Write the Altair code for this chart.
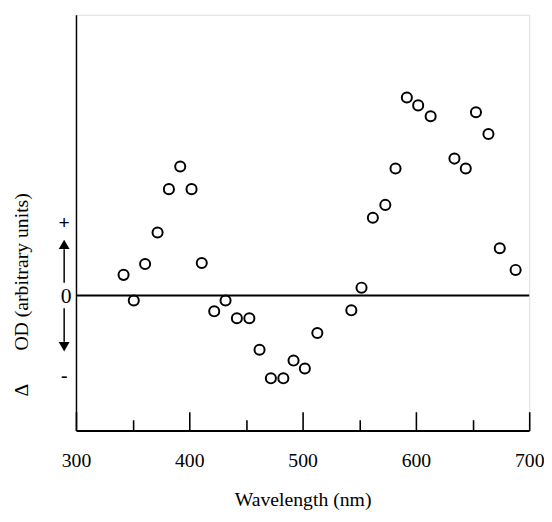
import altair as alt
import pandas as pd

# Data
wavelength = [342, 351, 361, 372, 382, 392, 402, 411, 422, 432, 442, 453,
              462, 472, 483, 492, 502, 513, 543, 552, 562, 573, 582, 592,
              602, 613, 634, 644, 653, 664, 674, 688]
delta_od = [2.1, -0.5, 3.2, 6.4, 10.8, 13.1, 10.8, 3.3, -1.6, -0.5, -2.3, -2.3,
            -5.5, -8.4, -8.4, -6.6, -7.4, -3.8, -1.5, 0.8, 7.9, 9.2, 12.9, 20.1,
            19.3, 18.2, 13.9, 12.9, 18.6, 16.4, 4.8, 2.6]
x_tick_labels = [300, 400, 500, 600, 700]
major_ticks = [400, 500, 600, 700]
minor_ticks = [350, 450, 550, 650]

W, H = 460, 422
Y_MIN, Y_MAX = -13.7, 28.5
FONT = "Liberation Serif"
MAJOR_LEN, MINOR_LEN = 19, 11

df = pd.DataFrame({"wl": wavelength, "od": delta_od})
xs = alt.Scale(domain=[300, 700], nice=False, zero=False)
ys = alt.Scale(domain=[Y_MIN, Y_MAX], nice=False, zero=False)

# inward ticks are drawn as short dashes of the x grid lines, at the bottom edge
grid_dash = {
    "condition": {"test": "datum.value % 100 === 0",
                  "value": [0, H - MAJOR_LEN, MAJOR_LEN, 2000]},
    "value": [0, H - MINOR_LEN, MINOR_LEN, 2000],
}

points = alt.Chart(df).mark_point(shape="circle", filled=False, size=105, strokeWidth=2,
                                  color="black", opacity=1).encode(
    x=alt.X("wl:Q", scale=xs,
            axis=alt.Axis(values=x_tick_labels + minor_ticks, ticks=False,
                          grid=True, gridColor="black", gridWidth=1.6, gridOpacity=1,
                          gridDash=grid_dash,
                          labelExpr="datum.value % 100 === 0 ? datum.label : ''",
                          labelFlush=False,
                          domainColor="black", domainWidth=2,
                          labelFont=FONT, labelFontSize=20, labelColor="black",
                          labelPadding=20, title="Wavelength (nm)",
                          titleFont=FONT, titleFontSize=20, titleFontWeight="normal",
                          titleColor="black", titlePadding=20)),
    y=alt.Y("od:Q", scale=ys,
            axis=alt.Axis(values=[0], ticks=False, grid=False, domainColor="black",
                          domainWidth=1.5, labelFont=FONT, labelFontSize=22,
                          labelColor="black", labelPadding=5, title=None)),
)

zero_line = alt.Chart(pd.DataFrame({"a": [300], "b": [700], "y": [0]})).mark_rule(
    color="black", strokeWidth=2).encode(
    x=alt.X("a:Q", scale=xs), x2="b:Q", y=alt.Y("y:Q", scale=ys))

# sign labels and arrows left of the y axis
signs = alt.Chart(pd.DataFrame({"s": ["+", "-"], "v": [7.4, -8.2]})).mark_text(
    font=FONT, fontSize=20, fontWeight="bold", color="black").encode(
    x=alt.value(-12), y=alt.Y("v:Q", scale=ys), text="s:N")

shafts = alt.Chart(pd.DataFrame({"a": [1.3, -1.3], "b": [4.7, -4.7]})).mark_rule(
    color="black", strokeWidth=1.5).encode(
    x=alt.value(-12), y=alt.Y("a:Q", scale=ys), y2="b:Q")

heads = alt.Chart(pd.DataFrame({"v": [5.2, -5.2], "sh": ["triangle-up", "triangle-down"]})).mark_point(
    filled=True, color="black", size=120, opacity=1).encode(
    x=alt.value(-12), y=alt.Y("v:Q", scale=ys),
    shape=alt.Shape("sh:N", scale=alt.Scale(domain=["triangle-up", "triangle-down"],
                                             range=["triangle-up", "triangle-down"]), legend=None))

ytitle = alt.Chart(pd.DataFrame({"t": ["OD (arbitrary units)", "\u0394"], "v": [2.4, -9.6]})).mark_text(
    font=FONT, fontSize=20, color="black", angle=270, align="center", baseline="middle").encode(
    x=alt.value(-55), y=alt.Y("v:Q", scale=ys), text="t:N")

chart = alt.layer(zero_line, shafts, heads, signs, ytitle, points).properties(
    width=W, height=H,
    autosize=alt.AutoSizeParams(type="none"),
    padding={"left": 69, "top": 3, "right": 15, "bottom": 90},
).configure_view(stroke=None).configure(background="white")

chart.save("out.html", embed_options={"renderer": "svg", "actions": False})
